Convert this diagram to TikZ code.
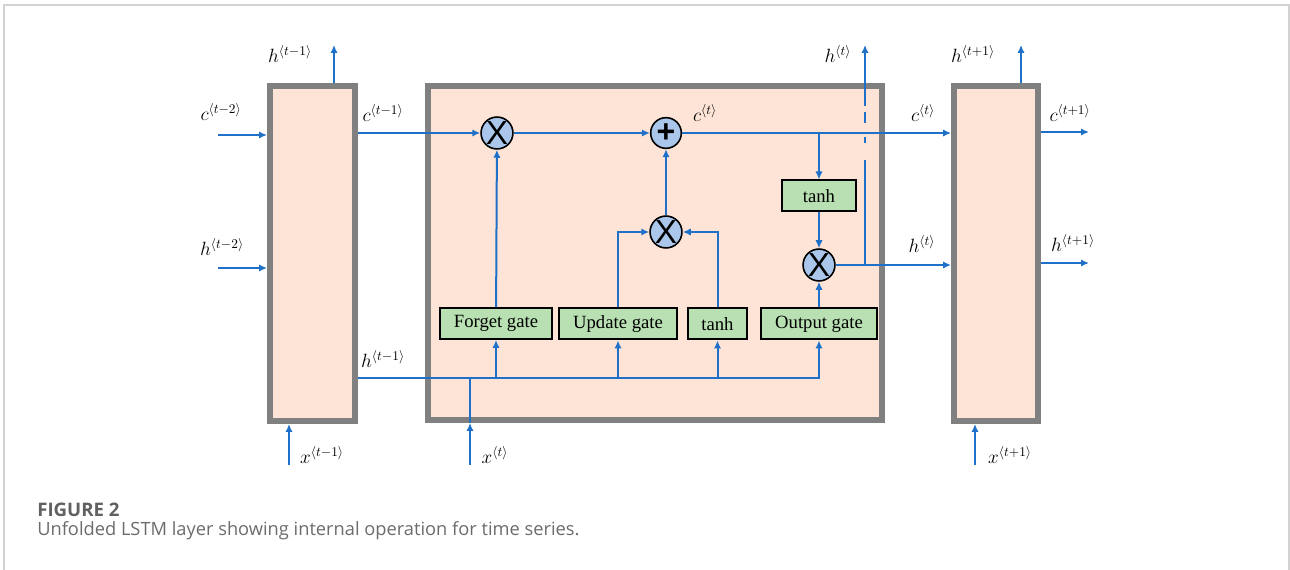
\documentclass[tikz,border=0pt]{standalone}
\usepackage{fontspec}
\setmainfont{Liberation Serif}
\newfontfamily\capfont{Open Sans}
\newfontfamily\opfont{Liberation Sans}
\usetikzlibrary{arrows.meta}

\definecolor{flowblue}{RGB}{31,112,200}
\definecolor{cellfill}{RGB}{253,228,214}
\definecolor{cellgray}{RGB}{128,128,128}
\definecolor{gatefill}{RGB}{184,224,178}
\definecolor{opfill}{RGB}{170,198,234}

\tikzset{
  cellbox/.style={draw=cellgray, fill=cellfill, line width=4.5pt, inner sep=0pt},
  gatebox/.style={draw=black, fill=gatefill, line width=1.5pt, inner sep=0pt,
    minimum height=23.25pt, font=\fontsize{14}{15}\selectfont},
  opnode/.style={circle, draw=black, fill=opfill, line width=1.2pt, inner sep=0pt,
    minimum size=23pt},
  flow/.style={draw=flowblue, line width=1.5pt, -{Latex[length=6pt,width=5.5pt]}},
  wire/.style={draw=flowblue, line width=1.5pt},
  lbl/.style={inner sep=0pt, font=\fontsize{14.5}{16}\selectfont},
}

\begin{document}
\begin{tikzpicture}[x=0.75pt, y=-0.75pt]
  \useasboundingbox (0,0) rectangle (1290,570);
  % Outer frame
  \draw[gray!35, line width=1pt] (4,570) -- (4,5) -- (1289,5) -- (1289,570);

  % Cells
  \node[cellbox, minimum width=63.75pt, minimum height=251.25pt] (lcell) at (312.5,253.5) {};
  \node[cellbox, minimum width=340.5pt, minimum height=250.5pt] (mcell) at (655,253) {};
  \node[cellbox, minimum width=63pt, minimum height=251.25pt] (rcell) at (996,253.5) {};

  % Gates
  \node[gatebox, minimum width=84pt] (forget) at (496,323.5) {Forget gate};
  \node[gatebox, minimum width=88.5pt] (update) at (618,324) {Update gate};
  \node[gatebox, minimum width=44.25pt] (tanhg) at (717.5,324) {tanh};
  \node[gatebox, minimum width=87pt] (output) at (819,324) {Output gate};
  \node[gatebox, minimum width=55.5pt] (tanhc) at (819,196) {tanh};

  % Pointwise operations
  \node[opnode, font=\opfont\fontsize{25}{25}\selectfont] (fmul) at (497,133) {X};
  \node[opnode, font=\opfont\bfseries\fontsize{24}{24}\selectfont] (cadd) at (666,133) {+};
  \node[opnode, font=\opfont\fontsize{25}{25}\selectfont] (umul) at (666,232) {X};
  \node[opnode, font=\opfont\fontsize{25}{25}\selectfont] (omul) at (819,265) {X};

  % Free ends
  \coordinate (cin) at (218,135);
  \coordinate (hin) at (218,268);
  \coordinate (hprevup) at (334,45);
  \coordinate (xprev) at (289,465);
  \coordinate (xcur) at (470,465);
  \coordinate (xnext) at (975,465);
  \coordinate (hnextup) at (1021,45);
  \coordinate (cout) at (1089,132);
  \coordinate (hout) at (1089,263);
  \coordinate (hbus) at (358,378);
  \coordinate (htap) at (865,265);
  \coordinate (hcurup) at (865,45);

  % Left cell
  \draw[flow] (cin) -- (lcell.west |- cin);
  \draw[flow] (hin) -- (lcell.west |- hin);
  \draw[flow] (lcell.north -| hprevup) -- (hprevup);
  \draw[flow] (xprev) -- (lcell.south -| xprev);

  % Cell state path
  \draw[flow] (lcell.east |- fmul) -- (fmul);
  \draw[flow] (fmul) -- (cadd);
  \draw[flow] (cadd) -- (rcell.west |- cadd);
  \draw[flow] (tanhc |- cadd) -- (tanhc);
  \draw[flow] (tanhc) -- (omul);
  \draw[flow] (omul) -- (rcell.west |- omul);

  % Hidden state going up, broken where it crosses
  \draw[wire] (htap) -- ([yshift=-86.25pt]hcurup)
    ([yshift=-73.5pt]hcurup) -- ([yshift=-69pt]hcurup)
    ([yshift=-58.5pt]hcurup) -- ([yshift=-50.25pt]hcurup);
  \draw[flow] ([yshift=-45.75pt]hcurup) -- (hcurup);

  % Gate connections
  \draw[flow] (forget) -- (fmul);
  \draw[flow] (update.north) |- (umul);
  \draw[flow] (tanhg.north) |- (umul);
  \draw[flow] (umul) -- (cadd);
  \draw[flow] (output) -- (omul);

  % Hidden state and input bus
  \draw[flow] (hbus) -| (output);
  \draw[flow] (forget |- hbus) -- (forget);
  \draw[flow] (update |- hbus) -- (update);
  \draw[flow] (tanhg |- hbus) -- (tanhg);
  \draw[flow] (xcur) -- (mcell.south -| xcur);
  \draw[wire] (mcell.south -| xcur) -- (xcur |- hbus);

  % Right cell
  \draw[flow] (rcell.north -| hnextup) -- (hnextup);
  \draw[flow] (rcell.east |- cout) -- (cout);
  \draw[flow] (rcell.east |- hout) -- (hout);
  \draw[flow] (xnext) -- (rcell.south -| xnext);

  % Labels
  \node[lbl] (lcin) at (221,112) {$c^{\langle t-2\rangle}$};
  \node[lbl] (lhin) at (222,247) {$h^{\langle t-2\rangle}$};
  \node[lbl] (lhprevup) at (290,54) {$h^{\langle t-1\rangle}$};
  \node[lbl] (lcprev) at (383,113) {$c^{\langle t-1\rangle}$};
  \node[lbl] (lhprev) at (383,359) {$h^{\langle t-1\rangle}$};
  \node[lbl] (lxprev) at (322,455) {$x^{\langle t-1\rangle}$};
  \node[lbl] (lxcur) at (495,455) {$x^{\langle t\rangle}$};
  \node[lbl] (lccin) at (705,113) {$c^{\langle t\rangle}$};
  \node[lbl] (lhcurup) at (838,54) {$h^{\langle t\rangle}$};
  \node[lbl] (lccout) at (923,113) {$c^{\langle t\rangle}$};
  \node[lbl] (lhcur) at (922,244) {$h^{\langle t\rangle}$};
  \node[lbl] (lhnextup) at (973,54) {$h^{\langle t+1\rangle}$};
  \node[lbl] (lcnext) at (1070,113) {$c^{\langle t+1\rangle}$};
  \node[lbl] (lhnext) at (1073,243) {$h^{\langle t+1\rangle}$};
  \node[lbl] (lxnext) at (1010,455) {$x^{\langle t+1\rangle}$};

  % Caption
  \node[anchor=base west, inner sep=0pt, text=black!62, font=\capfont\bfseries\fontsize{14}{16}\selectfont] (figno) at (37,516) {FIGURE 2};
  \node[anchor=base west, inner sep=0pt, text=black!58, font=\capfont\fontsize{13.7}{16}\selectfont] (figcap) at (37,536) {Unfolded LSTM layer showing internal operation for time series.};
\end{tikzpicture}
\end{document}
